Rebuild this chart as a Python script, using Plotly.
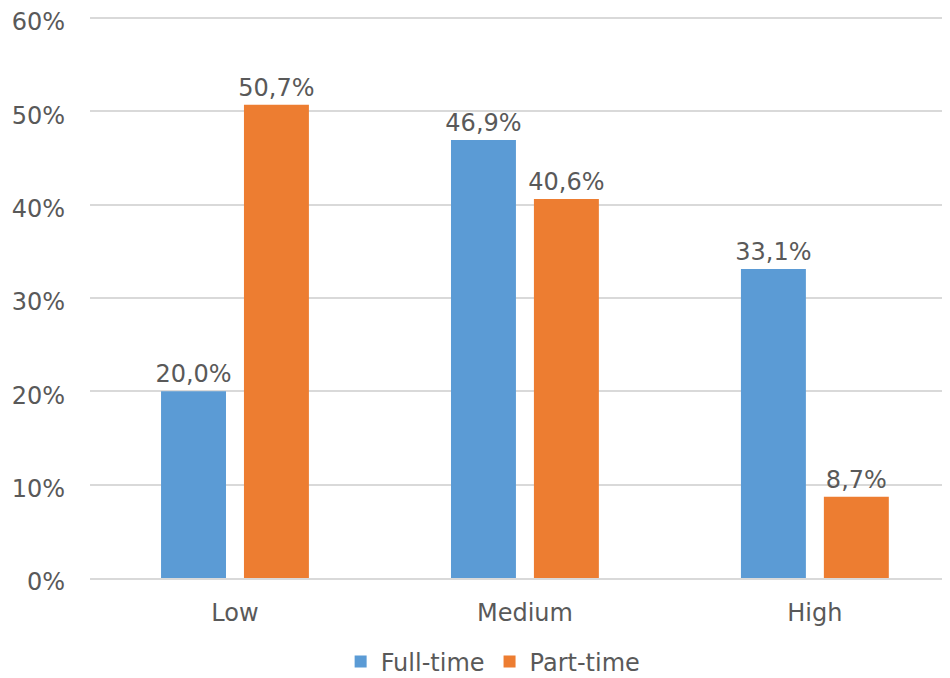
import plotly.graph_objects as go

categories = ["Low", "Medium", "High"]
full_time = [0.200, 0.469, 0.331]
part_time = [0.507, 0.406, 0.087]
series_names = ["Full-time", "Part-time"]
y_ticks = [0, 0.1, 0.2, 0.3, 0.4, 0.5, 0.6]

FONT = "DejaVu Sans"
TXT = "#595959"
GRID = "#D9D9D9"
FS = 24

fig = go.Figure()
fig.add_trace(go.Bar(
    x=categories, y=full_time, name=series_names[0],
    marker=dict(color="#5B9BD5", line=dict(width=0)),
    width=0.224, offset=-0.255,
    texttemplate="%{y:.1%}", textposition="outside", constraintext="none",
    textfont=dict(family=FONT, size=FS, color=TXT), cliponaxis=False,
))
fig.add_trace(go.Bar(
    x=categories, y=part_time, name=series_names[1],
    marker=dict(color="#ED7D31", line=dict(width=0)),
    width=0.224, offset=0.031,
    texttemplate="%{y:.1%}", textposition="outside", constraintext="none",
    textfont=dict(family=FONT, size=FS, color=TXT), cliponaxis=False,
))

fig.update_layout(
    width=942, height=670,
    margin=dict(l=82, r=0, t=7, b=100, autoexpand=False),
    paper_bgcolor="white", plot_bgcolor="white",
    separators=",.",
    barmode="overlay",
    font=dict(family=FONT, size=FS, color=TXT),
    showlegend=True,
    legend=dict(orientation="h", xref="container", x=0.515, xanchor="center",
                yref="container", y=0.024, yanchor="middle",
                font=dict(family=FONT, size=FS, color=TXT),
                itemwidth=30, traceorder="normal"),
    xaxis=dict(type="category", range=[-0.5, 2.466], showgrid=False,
               showline=True, linecolor=GRID, linewidth=1.5, ticks="",
               ticklabelstandoff=12, automargin=False,
               tickfont=dict(family=FONT, size=FS, color=TXT)),
    yaxis=dict(range=[0, 0.603], tickvals=y_ticks, tickformat=".0%",
               showgrid=True, gridcolor=GRID, gridwidth=1.5,
               zeroline=False, showline=False, ticks="",
               ticklabelstandoff=24, ticklabelshift=4, automargin=False,
               ticklabeloverflow="allow",
               tickfont=dict(family=FONT, size=FS, color=TXT)),
)

fig.write_html("out.html")
